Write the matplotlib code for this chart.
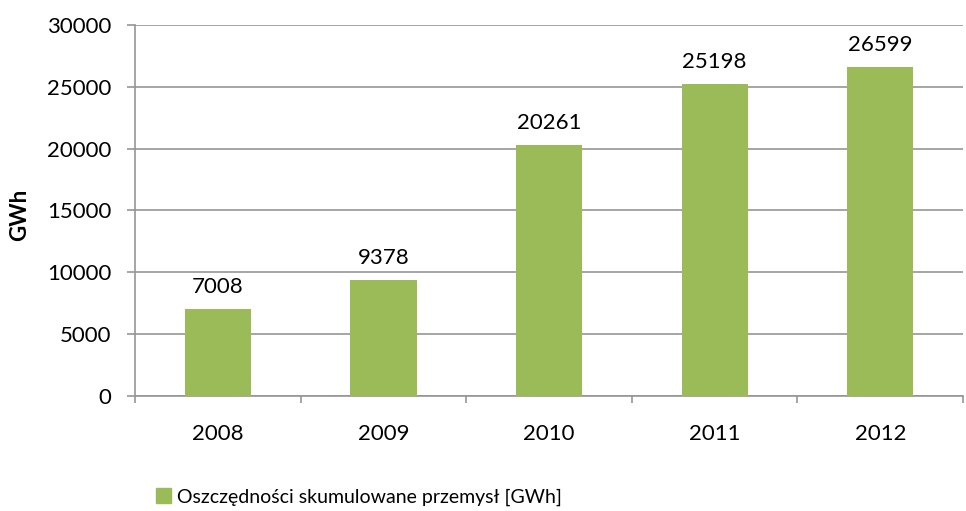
import matplotlib
matplotlib.use("Agg")
import matplotlib.pyplot as plt
from matplotlib.patches import Patch

# dane
lata = ["2008", "2009", "2010", "2011", "2012"]
oszczednosci = [7008, 9378, 20261, 25198, 26599]
etykieta = "Oszczędności skumulowane przemysł [GWh]"

plt.rcParams["font.family"] = ["Lato", "DejaVu Sans"]

zielony = "#9BBB59"
szary = "#969696"

fig = plt.figure(figsize=(9.66, 5.11), dpi=100)
ax = fig.add_axes([135 / 966, 115 / 511, 0.997 - 135 / 966, 371 / 511])

x = range(len(lata))
slupki = ax.bar(x, oszczednosci, width=0.4, color=zielony, zorder=3)

for s, v in zip(slupki, oszczednosci):
    ax.annotate(str(v), (s.get_x() + s.get_width() / 2, v), xytext=(0, 9),
                textcoords="offset points", ha="center", va="bottom", fontsize=16)

ax.set_xlim(-0.5, len(lata) - 0.5)
ax.set_ylim(0, 30000)
ax.set_yticks(range(0, 30001, 5000))
ax.set_xticks(list(x))
ax.set_xticklabels(lata)
ax.set_xticks([i + 0.5 for i in range(-1, len(lata))], minor=True)
ax.tick_params(axis="x", which="major", length=0, pad=20, labelsize=16)
ax.tick_params(axis="x", which="minor", length=5, color=szary, width=1.2)
ax.tick_params(axis="y", length=6, color=szary, width=1.2, labelsize=16, pad=11)

ax.yaxis.grid(True, color=szary, linewidth=1.2, zorder=0)
for k in ["top", "right"]:
    ax.spines[k].set_visible(False)
for k in ["left", "bottom"]:
    ax.spines[k].set_color(szary)
    ax.spines[k].set_linewidth(1.2)

fig.text(20 / 966, 1 - 215 / 511, "GWh", rotation=90, ha="center", va="center",
         fontsize=16, fontweight="bold")

fig.legend(handles=[Patch(color=zielony, label=etykieta)], loc="center left",
           bbox_to_anchor=(148 / 966, 1 - 497 / 511), frameon=False, fontsize=14,
           handlelength=0.8, handleheight=0.8, handletextpad=0.3, borderaxespad=0)

fig.savefig("out.png", dpi=100)
